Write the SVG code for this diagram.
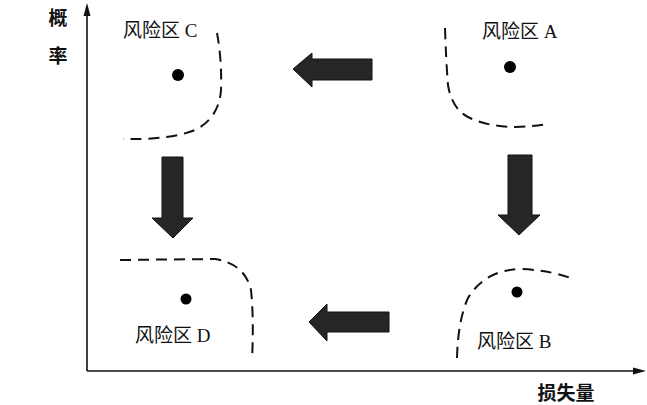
<svg xmlns="http://www.w3.org/2000/svg" width="647" height="405" viewBox="0 0 647 405">
<style>
.lbl{font-family:"Liberation Serif","Noto Sans CJK SC",serif;font-size:19px;fill:#111}
.ax{font-family:"Noto Sans CJK SC",sans-serif;font-size:19px;font-weight:700;fill:#111}
.dash{fill:none;stroke:#111;stroke-width:2;stroke-dasharray:11,7}
.dot{fill:#000}
.big{fill:#262626;stroke:#111;stroke-width:1}
.axis{stroke:#111;stroke-width:1.6;fill:none}
</style>
<rect width="647" height="405" fill="#fff"/>
<g id="axes">
<line class="axis" x1="87" y1="371" x2="87" y2="12"/>
<polygon points="87,3 83.5,16 90.5,16" fill="#111"/>
<line class="axis" x1="87" y1="371" x2="636" y2="371"/>
<polygon points="646,371 633,367.5 633,374.5" fill="#111"/>
<text class="ax" x="58" y="25" text-anchor="middle">概</text>
<text class="ax" x="58" y="63" text-anchor="middle">率</text>
<text class="ax" x="566" y="400" text-anchor="middle">损失量</text>
</g>
<g id="zoneC">
<path class="dash" d="M217,33 Q222,60 221,90 Q219,118 195,130 Q170,140 123,139"/>
<circle class="dot" cx="178" cy="75" r="6"/>
<text class="lbl" x="123" y="37">风险区 C</text>
</g>
<g id="zoneA">
<path class="dash" d="M445,28 Q446,60 448,85 Q452,110 470,118 Q500,132 548,124"/>
<circle class="dot" cx="510" cy="67" r="6"/>
<text class="lbl" x="482" y="38">风险区 A</text>
</g>
<g id="zoneD">
<path class="dash" d="M120,260 L215,259 Q245,264 251,290 Q254,320 252,360"/>
<circle class="dot" cx="186" cy="299" r="5.5"/>
<text class="lbl" x="135" y="342">风险区 D</text>
</g>
<g id="zoneB">
<path class="dash" d="M457,358 Q458,320 468,298 Q485,270 520,269 Q550,270 573,279"/>
<circle class="dot" cx="517" cy="292" r="5.5"/>
<text class="lbl" x="477" y="348">风险区 B</text>
</g>
<g id="connectors">
<polygon class="big" points="293,69 312,53 312,59 372,59 372,80 312,80 312,87"/>
<polygon class="big" points="309,322 327,304 327,312 389,312 389,332 327,332 327,341"/>
<polygon class="big" points="162,157 183,157 183,218 193,218 173,238 152,218 162,218"/>
<polygon class="big" points="508,155 532,155 532,215 540,215 519,235 498,215 508,215"/>
</g>
</svg>
